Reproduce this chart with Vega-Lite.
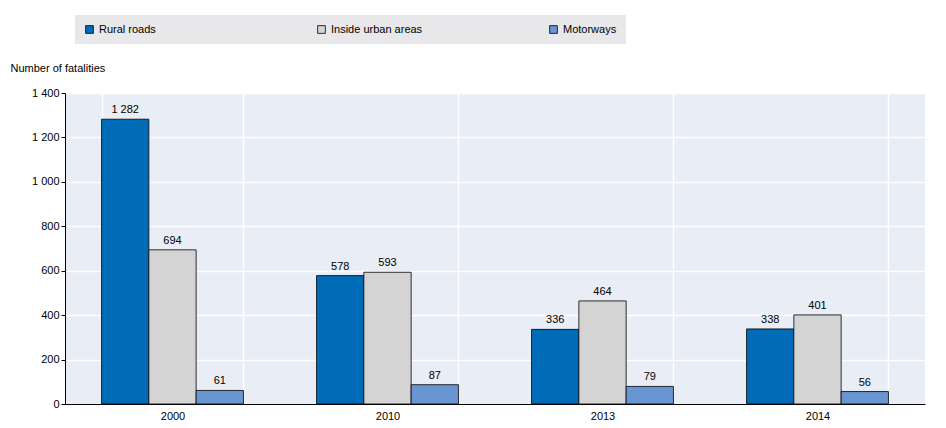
{
  "$schema": "https://vega.github.io/schema/vega-lite/v6.json",
  "width": 860,
  "height": 311,
  "padding": {"left": 10, "top": 15, "right": 10, "bottom": 5},
  "config": {
    "font": "Liberation Sans",
    "view": {"fill": "#e9edf6", "stroke": null},
    "axis": {"labelFontSize": 11, "labelColor": "#000", "titleFontWeight": "normal"}
  },
  "data": {
    "values": [
      {"year": "2000", "type": "Rural roads", "value": 1282},
      {"year": "2000", "type": "Inside urban areas", "value": 694},
      {"year": "2000", "type": "Motorways", "value": 61},
      {"year": "2010", "type": "Rural roads", "value": 578},
      {"year": "2010", "type": "Inside urban areas", "value": 593},
      {"year": "2010", "type": "Motorways", "value": 87},
      {"year": "2013", "type": "Rural roads", "value": 336},
      {"year": "2013", "type": "Inside urban areas", "value": 464},
      {"year": "2013", "type": "Motorways", "value": 79},
      {"year": "2014", "type": "Rural roads", "value": 338},
      {"year": "2014", "type": "Inside urban areas", "value": 401},
      {"year": "2014", "type": "Motorways", "value": 56}
    ]
  },
  "encoding": {
    "x": {
      "field": "year", "type": "nominal", "title": null,
      "scale": {"paddingInner": 0.34, "paddingOuter": 0.17},
      "axis": {"labelAngle": 0, "grid": true, "gridColor": "white", "gridWidth": 1.5, "tickBand": "extent", "ticks": false, "domainColor": "#000", "labelPadding": 6}
    },
    "xOffset": {"field": "type", "sort": ["Rural roads", "Inside urban areas", "Motorways"]},
    "y": {
      "field": "value", "type": "quantitative",
      "scale": {"domain": [0, 1400]},
      "axis": {
        "values": [0, 200, 400, 600, 800, 1000, 1200, 1400],
        "labelExpr": "replace(format(datum.value, ','), ',', ' ')",
        "title": "Number of fatalities", "titleAngle": 0, "titleAnchor": "end", "titleAlign": "left",
        "titleX": -55, "titleY": -20, "titleFontSize": 11,
        "gridColor": "white", "gridWidth": 1.5, "domainColor": "#000", "tickColor": "#000", "tickSize": 4
      }
    }
  },
  "layer": [
    {
      "mark": {"type": "bar", "stroke": "#000", "strokeWidth": 0.8},
      "encoding": {
        "color": {
          "field": "type", "type": "nominal",
          "sort": ["Rural roads", "Inside urban areas", "Motorways"],
          "scale": {"domain": ["Rural roads", "Inside urban areas", "Motorways"], "range": ["#006bb6", "#d4d4d4", "#6a95d3"]},
          "legend": {
            "title": null, "orient": "none", "legendX": 10, "legendY": -78,
            "direction": "horizontal", "columns": 3, "gridAlign": "all",
            "fillColor": "#e8e8ea", "padding": 9, "columnPadding": 125,
            "symbolType": "square", "symbolSize": 60, "symbolStrokeColor": "#000", "symbolStrokeWidth": 0.8,
            "labelFontSize": 11, "labelLimit": 200, "offset": 0
          }
        }
      }
    },
    {
      "mark": {"type": "text", "dy": -9, "fontSize": 11, "color": "#000"},
      "encoding": {
        "text": {"field": "label"}
      },
      "transform": [{"calculate": "replace(format(datum.value, ','), ',', ' ')", "as": "label"}]
    }
  ]
}
